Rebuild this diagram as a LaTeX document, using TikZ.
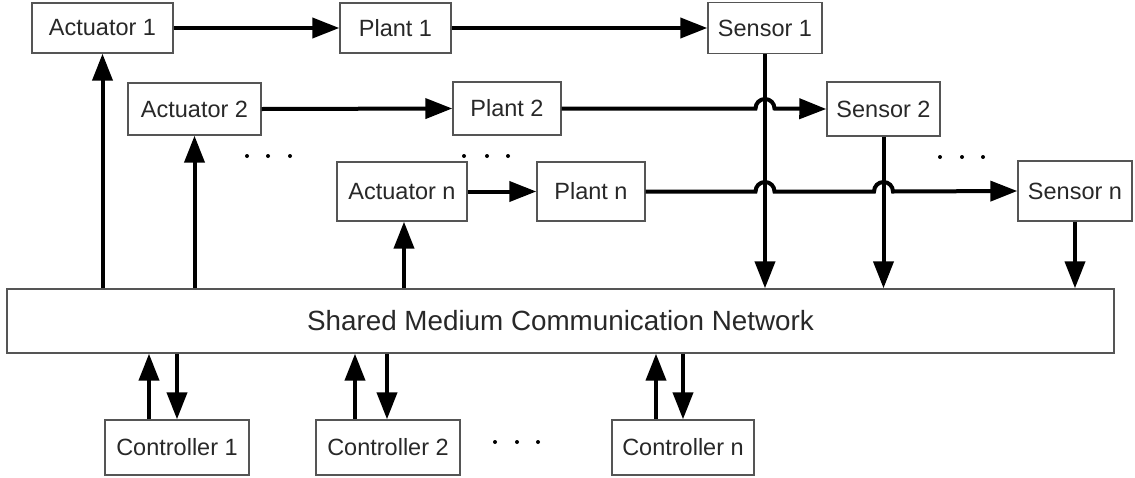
\documentclass[tikz,border=0pt]{standalone}
\usepackage{fontspec}
\setmainfont{Liberation Sans}
\usetikzlibrary{arrows.meta,calc}
\definecolor{boxline}{RGB}{85,85,85}
\definecolor{txt}{RGB}{40,40,40}
\tikzset{
  blk/.style={draw=boxline, line width=1.4pt, fill=white, inner sep=0pt, text=txt,
    font=\fontsize{23.5pt}{28pt}\selectfont},
  netblk/.style={blk, font=\fontsize{27.8pt}{32pt}\selectfont},
  arr/.style={line width=4pt, -{Triangle[length=27pt,width=20pt]}},
  dotmark/.style={circle, fill=black, inner sep=0pt, minimum size=4pt}
}
\begin{document}
\begin{tikzpicture}[x=1pt,y=-1pt]
\useasboundingbox (0,0) rectangle (1135,477);
% row 1
\node[blk, minimum width=141pt, minimum height=50pt] (A1) at (102.5,28) {Actuator 1};
\node[blk, minimum width=111pt, minimum height=50pt] (P1) at (395.5,28) {Plant 1};
\node[blk, minimum width=114pt, minimum height=51pt] (S1) at (765,28) {Sensor 1};
% row 2
\node[blk, minimum width=133pt, minimum height=52pt] (A2) at (194.5,109) {Actuator 2};
\node[blk, minimum width=108pt, minimum height=53pt] (P2) at (507,108.5) {Plant 2};
\node[blk, minimum width=113pt, minimum height=54pt] (S2) at (883.5,109) {Sensor 2};
% row n
\node[blk, minimum width=130pt, minimum height=59pt] (An) at (402,191.5) {Actuator n};
\node[blk, minimum width=108pt, minimum height=59pt] (Pn) at (591,191.5) {Plant n};
\node[blk, minimum width=114pt, minimum height=60pt] (Sn) at (1075,191) {Sensor n};
% network
\node[netblk, minimum width=1107pt, minimum height=64pt] (Net) at (560.5,321) {Shared Medium Communication Network};
% controllers
\node[blk, minimum width=144pt, minimum height=55pt] (C1) at (177,447.5) {Controller 1};
\node[blk, minimum width=144pt, minimum height=55pt] (C2) at (388,447.5) {Controller 2};
\node[blk, minimum width=142pt, minimum height=55pt] (Cn) at (683,447.5) {Controller n};
% dots
\node[dotmark] (d1a) at (247,156) {};
\node[dotmark] (d1b) at (268,156) {};
\node[dotmark] (d1c) at (290,156) {};
\node[dotmark] (d2a) at (464,156) {};
\node[dotmark] (d2b) at (487,156) {};
\node[dotmark] (d2c) at (508,156) {};
\node[dotmark] (d3a) at (940,157) {};
\node[dotmark] (d3b) at (962,157) {};
\node[dotmark] (d3c) at (983,157) {};
\node[dotmark] (d4a) at (495,442) {};
\node[dotmark] (d4b) at (517,442) {};
\node[dotmark] (d4c) at (538,442) {};
% horizontal connectors
\draw[arr] (A1.east) -- (P1.west);
\draw[arr] (P1.east) -- (S1.west);
\draw[arr] (A2.east) -- (P2.west);
\draw[arr] (P2.east) -- ([xshift=-9.5pt]S1.south |- P2.east)
  arc[start angle=180, end angle=0, radius=9.5pt] -- (S2.west);
\draw[arr] (An.east) -- (Pn.west);
\draw[arr] (Pn.east) -- ([xshift=-9.5pt]S1.south |- Pn.east)
  arc[start angle=180, end angle=0, radius=9.5pt]
  -- ([xshift=-9.5pt]S2.south |- Pn.east)
  arc[start angle=180, end angle=0, radius=9.5pt] -- (Sn.west);
% network to actuators
\draw[arr] (A1.south |- Net.north) -- (A1.south);
\draw[arr] (A2.south |- Net.north) -- (A2.south);
\draw[arr] ([xshift=2pt]An.south |- Net.north) -- ([xshift=2pt]An.south);
% sensors to network
\draw[arr] (S1.south) -- (S1.south |- Net.north);
\draw[arr] (S2.south) -- (S2.south |- Net.north);
\draw[arr] (Sn.south) -- (Sn.south |- Net.north);
% controllers
\draw[arr] ([xshift=-28pt]C1.north) -- ([xshift=-28pt]C1.north |- Net.south);
\draw[arr] (C1.north |- Net.south) -- (C1.north);
\draw[arr] ([xshift=-33pt]C2.north) -- ([xshift=-33pt]C2.north |- Net.south);
\draw[arr] ([xshift=-1pt]C2.north |- Net.south) -- ([xshift=-1pt]C2.north);
\draw[arr] ([xshift=-27pt]Cn.north) -- ([xshift=-27pt]Cn.north |- Net.south);
\draw[arr] (Cn.north |- Net.south) -- (Cn.north);
\end{tikzpicture}
\end{document}
